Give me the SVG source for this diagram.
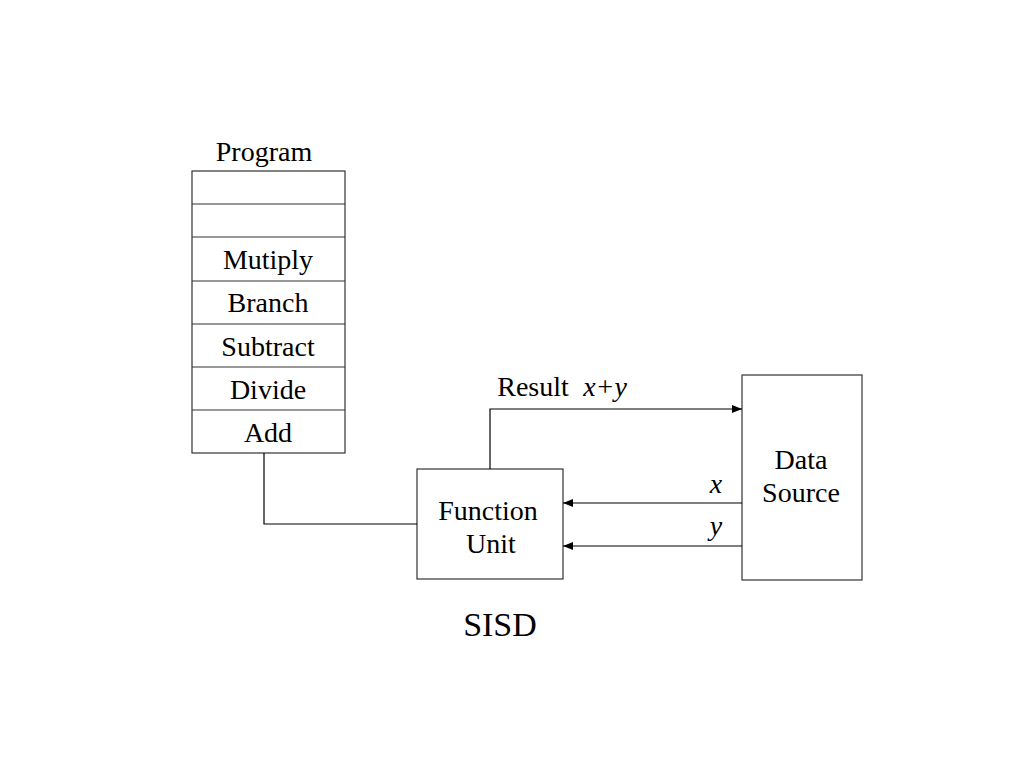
<svg xmlns="http://www.w3.org/2000/svg" width="1024" height="768" viewBox="0 0 1024 768">
<defs>
<style>
.box{fill:#fff;stroke:#333;stroke-width:1.2}
.ln{fill:none;stroke:#000;stroke-width:1.2}
.t{font-family:"Liberation Serif","Times New Roman",serif;font-size:28px;fill:#000;text-anchor:middle}
.i{font-style:italic}
</style>
<marker id="ah" markerWidth="10" markerHeight="8" refX="10" refY="4" orient="auto" markerUnits="userSpaceOnUse">
<path d="M0,0 L10,4 L0,8 z" fill="#000"/>
</marker>
</defs>
<rect width="1024" height="768" fill="#fff"/>
<g id="program">
<text class="t" x="264" y="161">Program</text>
<rect class="box" x="192" y="171" width="153" height="282"/>
<line class="box" x1="192" y1="204" x2="345" y2="204"/>
<line class="box" x1="192" y1="237" x2="345" y2="237"/>
<line class="box" x1="192" y1="281" x2="345" y2="281"/>
<line class="box" x1="192" y1="324" x2="345" y2="324"/>
<line class="box" x1="192" y1="367" x2="345" y2="367"/>
<line class="box" x1="192" y1="410" x2="345" y2="410"/>
<text class="t" x="268" y="269">Mutiply</text>
<text class="t" x="268" y="312">Branch</text>
<text class="t" x="268" y="356">Subtract</text>
<text class="t" x="268" y="399">Divide</text>
<text class="t" x="268" y="442">Add</text>
</g>
<g id="function-unit">
<rect class="box" x="417" y="469" width="146" height="110"/>
<text class="t" x="488" y="520">Function</text>
<text class="t" x="491" y="553">Unit</text>
</g>
<g id="data-source">
<rect class="box" x="742" y="375" width="120" height="205"/>
<text class="t" x="801" y="469">Data</text>
<text class="t" x="801" y="502">Source</text>
</g>
<g id="connectors">
<polyline class="ln" points="264,453 264,524 417,524"/>
<polyline class="ln" points="490,469 490,409 742,409" marker-end="url(#ah)"/>
<line class="ln" x1="742" y1="503" x2="563" y2="503" marker-end="url(#ah)"/>
<line class="ln" x1="742" y1="546" x2="563" y2="546" marker-end="url(#ah)"/>
</g>
<g id="labels">
<text class="t" x="533" y="396">Result</text>
<text class="t i" x="605" y="396">x+y</text>
<text class="t i" x="716" y="493">x</text>
<text class="t i" x="716" y="535">y</text>
<text class="t" x="500" y="636" style="font-size:34px">SISD</text>
</g>
</svg>
